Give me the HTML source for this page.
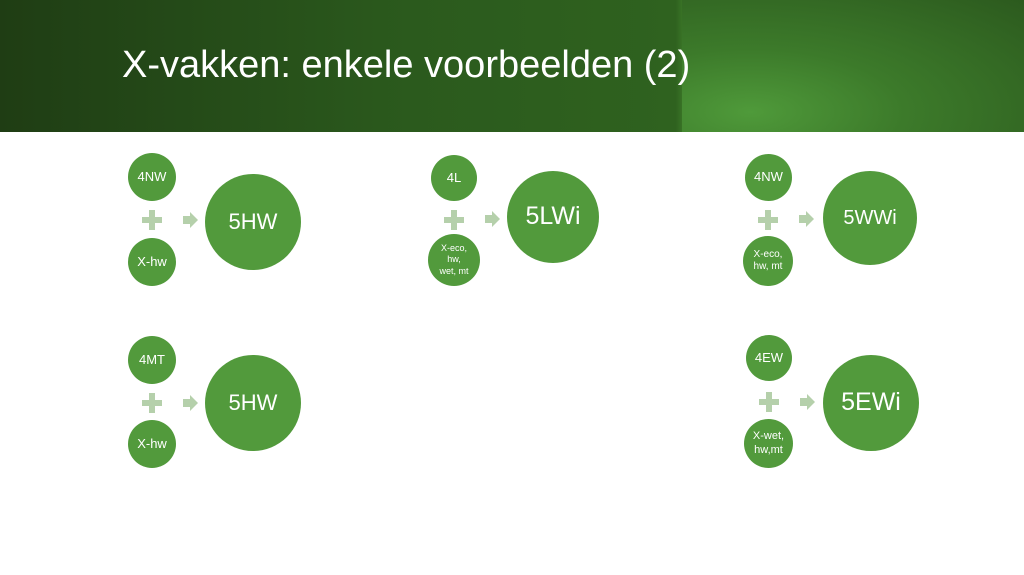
<!DOCTYPE html>
<html><head><meta charset="utf-8"><style>
body{margin:0;width:1024px;height:575px;background:#fff;position:relative;overflow:hidden;font-family:"Liberation Sans",sans-serif}
.hdr{position:absolute;left:0;top:0;width:1024px;height:132px;background:linear-gradient(90deg,#1f3d14 0%,#2b5a1d 40%,#2f621f 66%,#3f7d2a 67%,#4a9236 78%,#2f621f 100%)}
.hdr2{position:absolute;left:682px;top:0;width:342px;height:132px;background:radial-gradient(ellipse at 20% 85%,#4f9a3a 0%,#3c7a2a 40%,#2c5a1e 100%)}
.t{position:absolute;left:122px;top:44px;font-size:38px;color:#fff;white-space:nowrap}
.c{position:absolute;border-radius:50%;background:#529a3c;color:#fff;display:flex;align-items:center;justify-content:center;text-align:center;line-height:1.25}
.p{position:absolute;width:20px;height:20px}
.p:before{content:"";position:absolute;left:7px;top:0;width:6px;height:20px;background:#b5d0ab}
.p:after{content:"";position:absolute;left:0;top:7px;width:20px;height:6px;background:#b5d0ab}
.a{position:absolute;width:0;height:0}
.a:before{content:"";position:absolute;left:0;top:-4px;width:7px;height:8px;background:#b5d0ab}
.a:after{content:"";position:absolute;left:7px;top:-8px;border-left:8px solid #b5d0ab;border-top:8px solid transparent;border-bottom:8px solid transparent}
</style></head><body>
<div class="hdr"></div><div class="hdr2"></div>
<div class="t">X-vakken: enkele voorbeelden (2)</div>

<div class="c" style="left:128px;top:153px;width:48px;height:48px;font-size:13px">4NW</div>
<div class="p" style="left:142px;top:210px"></div>
<div class="c" style="left:128px;top:238px;width:48px;height:48px;font-size:13px">X-hw</div>
<div class="a" style="left:183px;top:220px"></div>
<div class="c" style="left:205px;top:174px;width:96px;height:96px;font-size:22px">5HW</div>

<div class="c" style="left:431px;top:155px;width:46px;height:46px;font-size:13px">4L</div>
<div class="p" style="left:444px;top:210px"></div>
<div class="c" style="left:428px;top:234px;width:52px;height:52px;font-size:9px">X-eco,<br>hw,<br>wet, mt</div>
<div class="a" style="left:485px;top:219px"></div>
<div class="c" style="left:507px;top:171px;width:92px;height:92px;font-size:25px">5LWi</div>

<div class="c" style="left:745px;top:154px;width:47px;height:47px;font-size:13px">4NW</div>
<div class="p" style="left:758px;top:210px"></div>
<div class="c" style="left:743px;top:236px;width:50px;height:50px;font-size:10px">X-eco,<br>hw, mt</div>
<div class="a" style="left:799px;top:219px"></div>
<div class="c" style="left:823px;top:171px;width:94px;height:94px;font-size:20px">5WWi</div>

<div class="c" style="left:128px;top:336px;width:48px;height:48px;font-size:13px">4MT</div>
<div class="p" style="left:142px;top:393px"></div>
<div class="c" style="left:128px;top:420px;width:48px;height:48px;font-size:13px">X-hw</div>
<div class="a" style="left:183px;top:403px"></div>
<div class="c" style="left:205px;top:355px;width:96px;height:96px;font-size:22px">5HW</div>

<div class="c" style="left:746px;top:335px;width:46px;height:46px;font-size:13px">4EW</div>
<div class="p" style="left:759px;top:392px"></div>
<div class="c" style="left:744px;top:419px;width:49px;height:49px;font-size:11px">X-wet,<br>hw,mt</div>
<div class="a" style="left:800px;top:402px"></div>
<div class="c" style="left:823px;top:355px;width:96px;height:96px;font-size:25px">5EWi</div>
</body></html>
